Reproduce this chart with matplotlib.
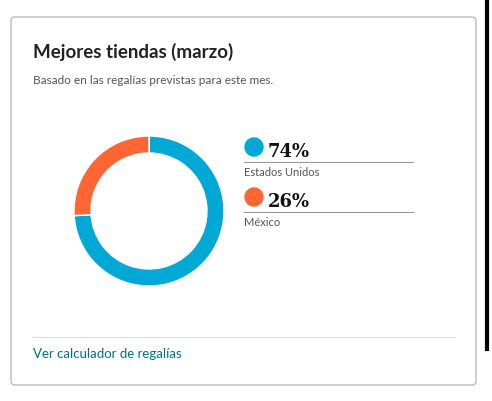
import matplotlib
matplotlib.use("Agg")
import matplotlib.pyplot as plt
from matplotlib.patches import FancyBboxPatch, Circle

labels = ["Estados Unidos", "México"]
shares = [74, 26]
colors = ["#00A8D6", "#FF6633"]

W, H = 492, 402
fig = plt.figure(figsize=(W / 100, H / 100), dpi=100)
bg = fig.add_axes([0, 0, 1, 1])
bg.set_xlim(0, W)
bg.set_ylim(H, 0)
bg.axis("off")

# card
bg.add_patch(FancyBboxPatch((11, 18), 465, 368, boxstyle="round,pad=0,rounding_size=4",
                            fc="white", ec="#BBBBBB", lw=1))
bg.plot([487, 487], [0, 350], color="black", lw=3)

bg.text(33, 52, "Mejores tiendas (marzo)", fontsize=13.5, fontweight="bold",
        color="#222222", va="center", family="Lato")
bg.text(33, 81, "Basado en las regalías previstas para este mes.", fontsize=8.5,
        color="#555555", va="center", family="Lato")

# legend
for i, (lab, val, c) in enumerate(zip(labels, shares, colors)):
    y0 = 148 + i * 50
    bg.add_patch(Circle((254, y0), 9, color=c))
    bg.text(268, y0 + 4, f"{val}%", fontsize=13, fontweight="bold",
            family="DejaVu Serif", color="#111111", va="center")
    bg.plot([244, 413], [y0 + 15, y0 + 15], color="#999999", lw=0.8)
    bg.text(244, y0 + 25, lab, fontsize=8, color="#555555", va="center", family="Lato")

bg.plot([33, 455], [338, 338], color="#DDDDDD", lw=0.8)
bg.text(33, 354, "Ver calculador de regalías", fontsize=9.5, color="#007185",
        va="center", family="Lato")

# donut
cx, cy, r = 149, 212, 75
ax = fig.add_axes([(cx - r) / W, (H - cy - r) / H, 2 * r / W, 2 * r / H])
ax.pie(shares, colors=colors, startangle=90, counterclock=False,
       wedgeprops=dict(width=17 / 75, edgecolor="white", linewidth=1))
ax.set_xlim(-1, 1)
ax.set_ylim(-1, 1)
ax.set_aspect("equal")

fig.savefig("out.png", dpi=100)
